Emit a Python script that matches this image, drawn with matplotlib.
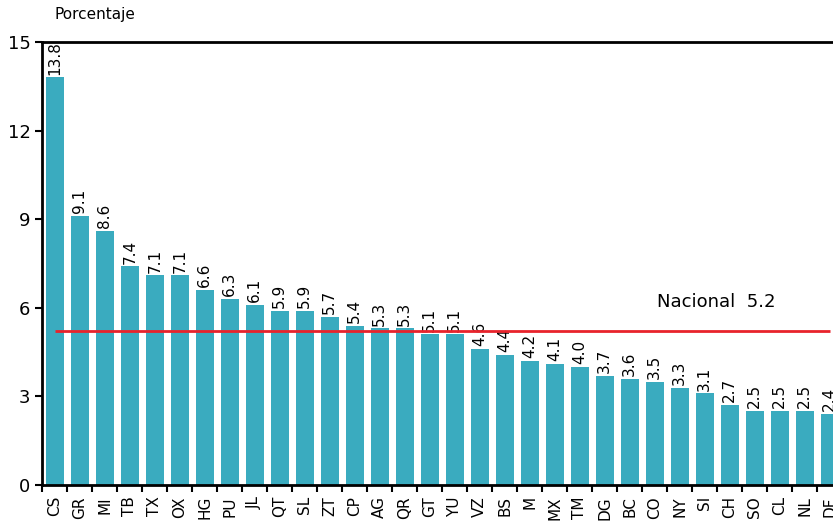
import numpy as np
import matplotlib.pyplot as plt

# data
estados = ['CS', 'GR', 'MI', 'TB', 'TX', 'OX', 'HG', 'PU', 'JL', 'QT', 'SL', 'ZT',
           'CP', 'AG', 'QR', 'GT', 'YU', 'VZ', 'BS', 'M', 'MX', 'TM', 'DG', 'BC',
           'CO', 'NY', 'SI', 'CH', 'SO', 'CL', 'NL', 'DF']
porcentaje = [13.8, 9.1, 8.6, 7.4, 7.1, 7.1, 6.6, 6.3, 6.1, 5.9, 5.9, 5.7,
              5.4, 5.3, 5.3, 5.1, 5.1, 4.6, 4.4, 4.2, 4.1, 4.0, 3.7, 3.6,
              3.5, 3.3, 3.1, 2.7, 2.5, 2.5, 2.5, 2.4]
nacional = 5.2
yticks = [0, 3, 6, 9, 12, 15]

bar_color = '#3aabbf'
line_color = '#e8232b'

fig = plt.figure(figsize=(8.33, 5.27), dpi=100)
# axes runs past the right edge, like the original (last bar is clipped)
ax = fig.add_axes([42.3 / 833, 42 / 527, 800 / 833, 443 / 527])

x = np.arange(len(estados))
bars = ax.bar(x, porcentaje, width=0.71, color=bar_color, zorder=2)

for xi, v in zip(x, porcentaje):
    ax.annotate(f'{v:.1f}', (xi, v), xytext=(0, 2), textcoords='offset points',
                rotation=90, ha='center', va='bottom', fontsize=11)

ax.hlines(nacional, 0, 31, color=line_color, lw=2, zorder=3)
ax.text(24.1, 6.2, 'Nacional  5.2', fontsize=13, ha='left', va='center')

ax.set_xlim(-0.5, len(estados) - 0.5)
ax.set_ylim(0, 15)
ax.set_yticks(yticks)
ax.tick_params(axis='y', labelsize=13, width=1.5, length=5)

# ticks sit between bars, labels under each bar
ax.set_xticks(np.arange(len(estados) + 1) - 0.5)
ax.set_xticklabels([])
ax.set_xticks(x, minor=True)
ax.set_xticklabels(estados, minor=True, rotation=90, fontsize=11)
ax.tick_params(axis='x', which='major', width=1.5, length=5)
ax.tick_params(axis='x', which='minor', length=0, pad=8)

for s in ['left', 'top', 'bottom']:
    ax.spines[s].set_linewidth(2)
ax.spines['right'].set_visible(False)

fig.text(55 / 833, 1 - 15 / 527, 'Porcentaje', fontsize=11, ha='left', va='center')

fig.savefig('out.png', dpi=100)
